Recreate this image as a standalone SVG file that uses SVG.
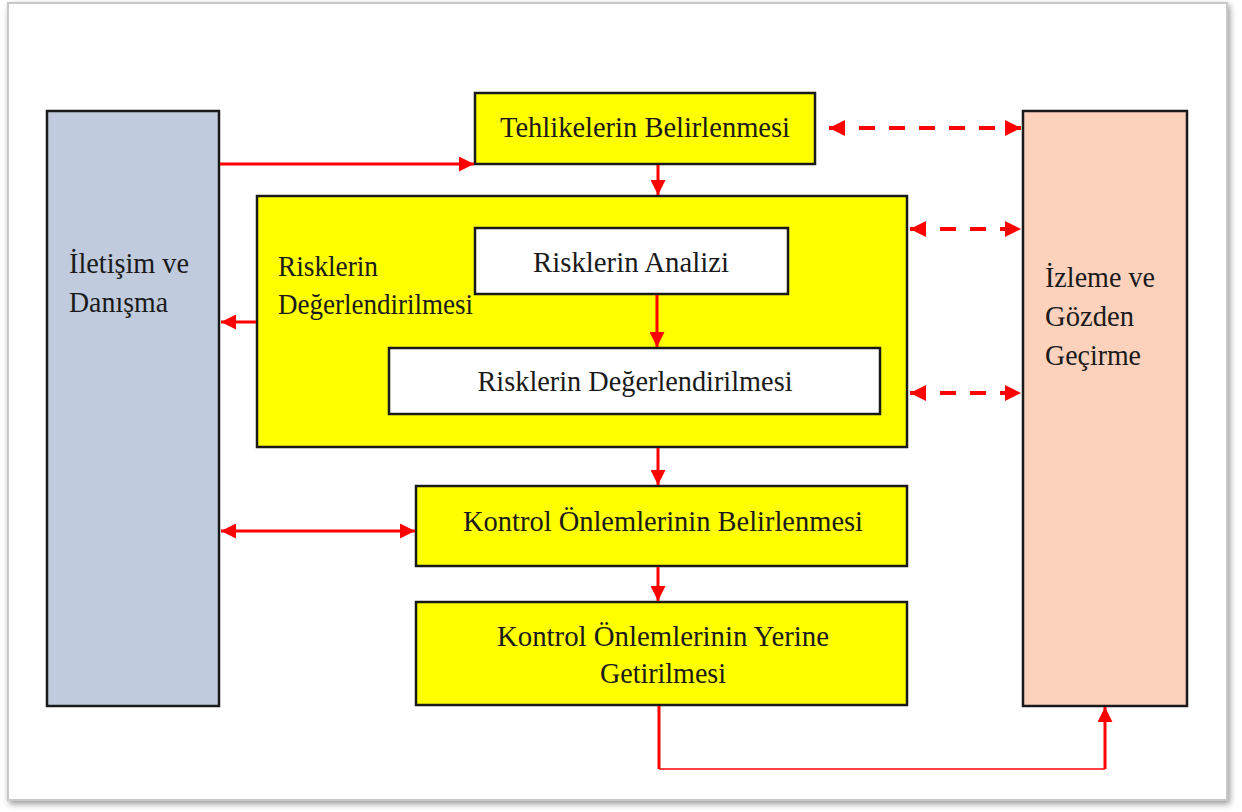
<svg xmlns="http://www.w3.org/2000/svg" width="1242" height="812" viewBox="0 0 1242 812">
<defs>
<style>
.box{stroke:#1a1a1a;stroke-width:2.5}
.y{fill:#ffff00}
.w{fill:#ffffff}
.t{font-family:"Liberation Serif","Times New Roman",serif;font-size:29px;fill:#1a1a1a}
.c{text-anchor:middle}
.a{stroke:#ff0000;stroke-width:3;fill:none}
.d{stroke:#ff0000;stroke-width:4;fill:none;stroke-dasharray:16 14}
</style>
<marker id="ah" viewBox="0 0 10 10" refX="10" refY="5" markerWidth="5.5" markerHeight="5" markerUnits="strokeWidth" orient="auto-start-reverse">
<path d="M0,0 L10,5 L0,10 Z" fill="#ff0000"/>
</marker>
<marker id="ahd" viewBox="0 0 10 10" refX="10" refY="5" markerWidth="4" markerHeight="4.5" markerUnits="strokeWidth" orient="auto-start-reverse">
<path d="M0,0 L10,5 L0,10 Z" fill="#ff0000"/>
</marker>
<filter id="sh" x="-5%" y="-5%" width="110%" height="110%">
<feGaussianBlur in="SourceAlpha" stdDeviation="3"/>
<feOffset dx="2" dy="3"/>
<feComponentTransfer><feFuncA type="linear" slope="0.4"/></feComponentTransfer>
<feMerge><feMergeNode/><feMergeNode in="SourceGraphic"/></feMerge>
</filter>
</defs>
<rect width="1242" height="812" fill="#ffffff"/>
<rect x="8" y="3" width="1219" height="797" fill="#ffffff" stroke="#c8c8c8" stroke-width="2" filter="url(#sh)"/>

<g id="iletisim">
<rect class="box" x="47" y="111" width="172" height="595" fill="#c0cbdd"/>
<text class="t" x="69" y="273" textLength="120" lengthAdjust="spacingAndGlyphs">İletişim ve</text>
<text class="t" x="69" y="312" textLength="99" lengthAdjust="spacingAndGlyphs">Danışma</text>
</g>
<g id="izleme">
<rect class="box" x="1023" y="111" width="164" height="595" fill="#fcd2bd"/>
<text class="t" x="1045" y="287" textLength="110" lengthAdjust="spacingAndGlyphs">İzleme ve</text>
<text class="t" x="1045" y="326" textLength="89" lengthAdjust="spacingAndGlyphs">Gözden</text>
<text class="t" x="1045" y="365" textLength="96" lengthAdjust="spacingAndGlyphs">Geçirme</text>
</g>
<g id="tehlike">
<rect class="box y" x="475" y="93" width="340" height="71"/>
<text class="t c" x="645" y="137" textLength="290" lengthAdjust="spacingAndGlyphs">Tehlikelerin Belirlenmesi</text>
</g>
<g id="degerlendirme">
<rect class="box y" x="257" y="196" width="650" height="251"/>
<text class="t" x="278" y="276" textLength="100" lengthAdjust="spacingAndGlyphs">Risklerin</text>
<text class="t" x="278" y="314" textLength="195" lengthAdjust="spacingAndGlyphs">Değerlendirilmesi</text>
</g>
<g id="analiz">
<rect class="box w" x="475" y="228" width="313" height="66"/>
<text class="t c" x="631" y="272" textLength="196" lengthAdjust="spacingAndGlyphs">Risklerin Analizi</text>
</g>
<g id="degerlendirme2">
<rect class="box w" x="389" y="348" width="491" height="66"/>
<text class="t c" x="635" y="391" textLength="315" lengthAdjust="spacingAndGlyphs">Risklerin Değerlendirilmesi</text>
</g>
<g id="kontrol1">
<rect class="box y" x="416" y="486" width="491" height="80"/>
<text class="t c" x="663" y="531" textLength="400" lengthAdjust="spacingAndGlyphs">Kontrol Önlemlerinin Belirlenmesi</text>
</g>
<g id="kontrol2">
<rect class="box y" x="416" y="602" width="491" height="103"/>
<text class="t c" x="663" y="646" textLength="332" lengthAdjust="spacingAndGlyphs">Kontrol Önlemlerinin Yerine</text>
<text class="t c" x="663" y="683" textLength="126" lengthAdjust="spacingAndGlyphs">Getirilmesi</text>
</g>

<g id="connectors">
<line class="a" x1="220" y1="164" x2="474" y2="164" marker-end="url(#ah)"/>
<line class="a" x1="658" y1="165" x2="658" y2="195" marker-end="url(#ah)"/>
<line class="a" x1="256" y1="322" x2="221" y2="322" marker-end="url(#ah)"/>
<line class="a" x1="657" y1="295" x2="657" y2="347" marker-end="url(#ah)"/>
<line class="a" x1="658" y1="448" x2="658" y2="485" marker-end="url(#ah)"/>
<line class="a" x1="221" y1="531" x2="415" y2="531" marker-start="url(#ah)" marker-end="url(#ah)"/>
<line class="a" x1="658" y1="567" x2="658" y2="601" marker-end="url(#ah)"/>
<line class="a" x1="659" y1="706" x2="659" y2="769"/>
<line x1="659" y1="769" x2="1105" y2="769" stroke="#ff0000" stroke-width="1.5"/>
<line class="a" x1="1105" y1="769" x2="1105" y2="707" marker-end="url(#ah)"/>
<line class="d" x1="829" y1="128" x2="1021" y2="128" marker-start="url(#ahd)" marker-end="url(#ahd)"/>
<line class="d" x1="910" y1="229" x2="1021" y2="229" marker-start="url(#ahd)" marker-end="url(#ahd)"/>
<line class="d" x1="910" y1="393" x2="1021" y2="393" marker-start="url(#ahd)" marker-end="url(#ahd)"/>
</g>
</svg>
